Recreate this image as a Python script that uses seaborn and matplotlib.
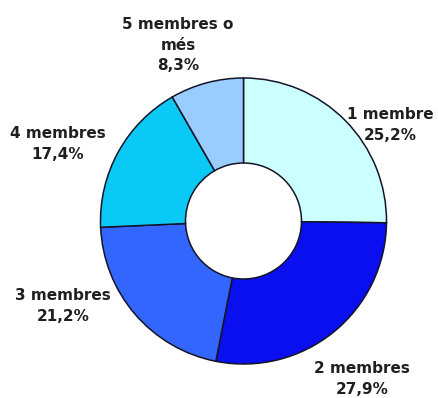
import matplotlib
matplotlib.use("Agg")
import matplotlib.pyplot as plt
import seaborn as sns

# Household size distribution
categories = ["1 membre", "2 membres", "3 membres", "4 membres", "5 membres o\nmés"]
shares = [25.2, 27.9, 21.2, 17.4, 8.3]
value_labels = ["25,2%", "27,9%", "21,2%", "17,4%", "8,3%"]

colors = ["#CCFFFF", "#0A0FF0", "#3366FF", "#0ACAF5", "#99CCFF"]

sns.set_theme(style="white")
plt.rcParams["font.family"] = ["DejaVu Sans"]

W, H = 439, 398
fig = plt.figure(figsize=(W / 100, H / 100), dpi=100)
ax = fig.add_axes([0, 0, 1, 1])

# donut geometry, in pixels
cx, cy, R, r_in = 243.5, 221.0, 143.0, 58.0

wedges, _ = ax.pie(
    shares,
    colors=colors,
    startangle=90,
    counterclock=False,
    radius=1.0,
    wedgeprops=dict(width=(R - r_in) / R, edgecolor="#141428", linewidth=1.1),
)

ax.set_xlim(-cx / R, (W - cx) / R)
ax.set_ylim(-(H - cy) / R, cy / R)
ax.set_aspect("equal")
ax.axis("off")

# label anchor points (pixel centres of each text block)
label_px = [(390, 125), (362, 379), (63, 306), (58, 144), (178, 45)]

for cat, lab, (px, py) in zip(categories, value_labels, label_px):
    ax.text((px - cx) / R, (cy - py) / R, f"{cat}\n{lab}",
            ha="center", va="center", fontsize=11, fontweight="bold",
            color="#1f1f1f", linespacing=1.45)

fig.savefig("out.png", dpi=100)
